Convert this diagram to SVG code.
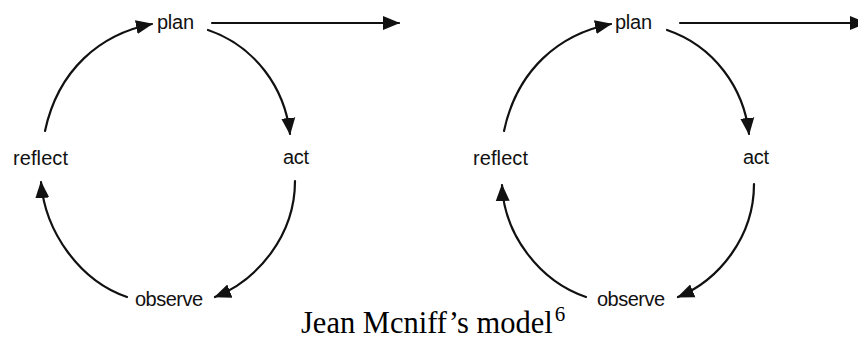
<svg xmlns="http://www.w3.org/2000/svg" width="858" height="340" viewBox="0 0 858 340">
<style>
.lbl{font-family:"Liberation Sans",Arial,sans-serif;font-size:20px;fill:#111}
.cap{font-family:"Liberation Serif","Times New Roman",serif;font-size:30.5px;fill:#000}
.c{fill:none;stroke:#111;stroke-width:2.2;stroke-linecap:round}
</style>
<defs>
<marker id="ah" markerUnits="userSpaceOnUse" markerWidth="18" markerHeight="18" viewBox="0 0 18 18" refX="16" refY="9" orient="auto">
<path d="M0,2 L17,9 L0,16 Z" fill="#111"/>
</marker>
</defs>
<rect width="858" height="340" fill="#fff"/>
<g id="connectors">
<g id="cycle-left-edges">
<path class="c" d="M45,131 C58,70 100,34 152,24" marker-end="url(#ah)"/>
<path class="c" d="M208,30 C255,46 285,88 290,134" marker-end="url(#ah)"/>
<path class="c" d="M295,181 C295,235 258,280 215,297" marker-end="url(#ah)"/>
<path class="c" d="M127,297 C80,281 45,232 41,182" marker-end="url(#ah)"/>
<path class="c" d="M212,23 L399,23" marker-end="url(#ah)"/>
</g>
<g id="cycle-right-edges" transform="translate(459,0)">
<path class="c" d="M45,131 C58,70 100,34 152,24" marker-end="url(#ah)"/>
<path class="c" d="M208,30 C255,46 285,88 290,134" marker-end="url(#ah)"/>
<path class="c" d="M295,184 C295,237 260,280 219,297" marker-end="url(#ah)"/>
<path class="c" d="M127,297 C80,281 45,234 43,185" marker-end="url(#ah)"/>
</g>
<path class="c" d="M680,23 L866,23" marker-end="url(#ah)"/>
</g>
<g id="plan1"><text class="lbl" x="157" y="29" textLength="37">plan</text></g>
<g id="act1"><text class="lbl" x="283" y="164" textLength="26">act</text></g>
<g id="observe1"><text class="lbl" x="135" y="306" textLength="68">observe</text></g>
<g id="reflect1"><text class="lbl" x="13" y="165" textLength="55">reflect</text></g>
<g id="plan2"><text class="lbl" x="615" y="29" textLength="37">plan</text></g>
<g id="act2"><text class="lbl" x="743" y="164" textLength="26">act</text></g>
<g id="observe2"><text class="lbl" x="597" y="306" textLength="68">observe</text></g>
<g id="reflect2"><text class="lbl" x="473" y="165" textLength="55">reflect</text></g>
<g id="caption"><text class="cap" x="301" y="333">Jean Mcniff’s model<tspan font-size="21" dx="2" dy="-12">6</tspan></text></g>
</svg>
